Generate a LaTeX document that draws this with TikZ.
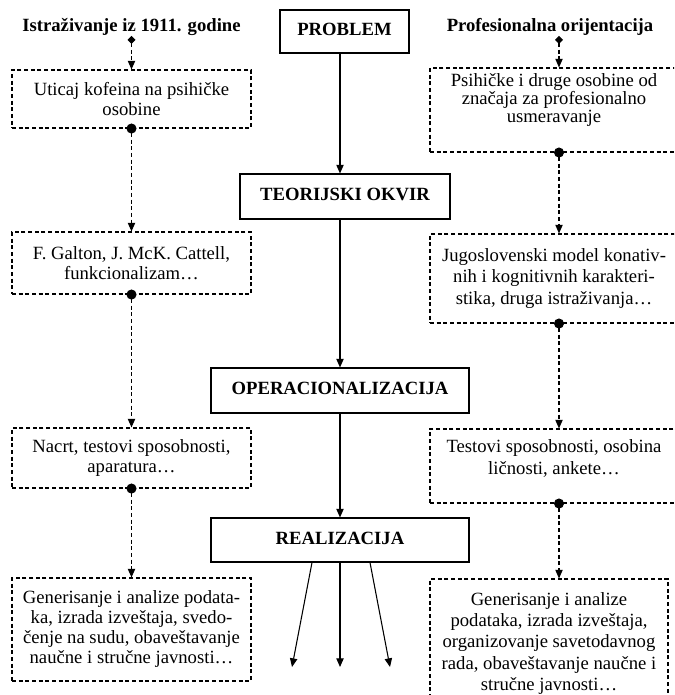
\documentclass[12pt,tikz,border=0pt]{standalone}
\usepackage{fontspec}
\setmainfont{Liberation Serif}
\usetikzlibrary{arrows.meta,calc,positioning}

% text pinned to the top of a dashed box
\newcommand{\toptext}[3]{\parbox[c][#1][t]{175pt}{\fontsize{14}{#2}\selectfont\centering #3}}

\begin{document}
\begin{tikzpicture}[x=0.75pt,y=-0.75pt,>={Triangle[length=6.5pt,width=5.5pt]}]
	\tikzstyle{block} = [draw, rectangle, line width=0.8pt, font=\fontsize{14}{16}\selectfont\bfseries, text height=9.5pt, text depth=3.5pt]
	\tikzstyle{dblock} = [draw, rectangle, line width=0.8pt, dash pattern=on 3pt off 2pt, align=center, font=\fontsize{14}{15}\selectfont]
	\tikzstyle{rblock} = [dblock, font=\fontsize{14}{16}\selectfont]
	\tikzstyle{head} = [inner sep=0pt, font=\fontsize{14}{16}\selectfont\bfseries]
	\tikzstyle{dline} = [line width=0.8pt, dash pattern=on 3pt off 2pt]
	\tikzstyle{dot} = [{Circle[length=7.5pt]}->, shorten <=-3.75pt]
	\tikzstyle{dia} = [{Diamond[length=6pt,width=6pt]}->]

	\useasboundingbox (0,0) rectangle (674,695);
	\clip (0,0) rectangle (674,695);

	% middle column
	\node [block, minimum width=96.75pt, minimum height=32.25pt] (problem) at (344.5,31.5) {PROBLEM};
	\node [block, minimum width=157.5pt, minimum height=33.75pt] (teorija) at (345,196.5) {TEORIJSKI OKVIR};
	\node [block, minimum width=193.5pt, minimum height=33.75pt] (oper) at (340,390.5) {OPERACIONALIZACIJA};
	\node [block, minimum width=193.5pt, minimum height=33pt] (real) at (340,540) {REALIZACIJA};

	\coordinate (out1) at (292,667);
	\coordinate (out2) at (340,667);
	\coordinate (out3) at (390,667);

	% left column
	\node [head] (lhead) at (131.5,27) {Istraživanje iz 1911. godine};
	\node [dblock, minimum width=179.25pt, minimum height=43.5pt] (l1) at (131.5,99) {Uticaj kofeina na psihičke\\ osobine};
	\node [dblock, minimum width=179.25pt, minimum height=46.5pt] (l2) at (131.5,263) {F. Galton, J. McK. Cattell,\\ funkcionalizam…};
	\node [dblock, minimum width=179.25pt, minimum height=45pt] (l3) at (131.5,458) {Nacrt, testovi sposobnosti,\\ aparatura…};
	\node [dblock, minimum width=179.25pt, minimum height=77.25pt] (l4) at (131.5,629.5) {Generisanje i analize podata-\\ ka, izrada izveštaja, svedo-\\ čenje na sudu, obaveštavanje\\ naučne i stručne javnosti…};

	% right column
	\node [head] (rhead) at (550,27) {Profesionalna orijentacija};
	\coordinate (rspine) at (559,0);
	\node [rblock, minimum width=186pt, minimum height=60pt] (r1) at (554,110) {\toptext{55pt}{13.7pt}{Psihičke i druge osobine od\\ značaja za profesionalno\\ usmeravanje}};
	\node [rblock, minimum width=186pt, minimum height=66.75pt] (r2) at (554,278.5) {Jugoslovenski model konativ-\\ nih i kognitivnih karakteri-\\ stika, druga istraživanja…};
	\node [rblock, minimum width=186pt, minimum height=55.5pt] (r3) at (554,466) {\toptext{40pt}{17pt}{Testovi sposobnosti, osobina\\ ličnosti, ankete…}};
	\node [rblock, minimum width=178.5pt, minimum height=96.75pt] (r4) at (549,643.5) {Generisanje i analize\\ podataka, izrada izveštaja,\\ organizovanje savetodavnog\\ rada, obaveštavanje naučne i\\ stručne javnosti…};

	\draw [->, line width=0.8pt] (problem.south -| real) -- (teorija.north -| real);
	\draw [->, line width=0.8pt] (teorija.south -| real) -- (oper.north);
	\draw [->, line width=0.8pt] (oper.south) -- (real.north);
	\draw [->, line width=0.8pt] ($(real.south)+(-28,0)$) -- (out1);
	\draw [->, line width=0.8pt] (real.south) -- (out2);
	\draw [->, line width=0.8pt] ($(real.south)+(30,0)$) -- (out3);

	\draw [dline, dia] (lhead.south) -- (l1.north);
	\draw [dline, dot] (l1.south) -- (l2.north);
	\draw [dline, dot] (l2.south) -- (l3.north);
	\draw [dline, dot] (l3.south) -- (l4.north);

	\draw [dline, dia] (rhead.south -| rspine) -- (r1.north -| rspine);
	\draw [dline, dot] (r1.south -| rspine) -- (r2.north -| rspine);
	\draw [dline, dot] (r2.south -| rspine) -- (r3.north -| rspine);
	\draw [dline, dot] (r3.south -| rspine) -- (r4.north -| rspine);
\end{tikzpicture}
\end{document}
